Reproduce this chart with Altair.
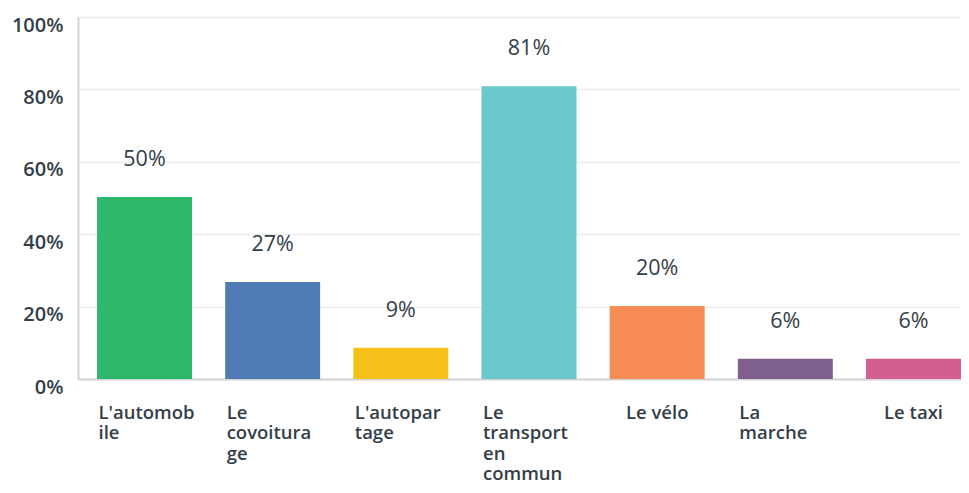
import json
import altair as alt
import pandas as pd

categories = ["L'automobile", "Le covoiturage", "L'autopartage",
              "Le transport en commun", "Le vélo", "La marche", "Le taxi"]
label_lines = [["L'automob", "ile"], ["Le", "covoitura", "ge"], ["L'autopar", "tage"],
               ["Le", "transport", "en", "commun"], ["Le vélo"], ["La", "marche"], ["Le taxi"]]
values = [50.3, 26.8, 8.6, 80.9, 20.2, 5.6, 5.6]
value_labels = ["50%", "27%", "9%", "81%", "20%", "6%", "6%"]
colors = ["#2db86c", "#507cb6", "#f7c11b", "#6bc8cd", "#f78d54", "#7f5f90", "#d25f90"]
y_ticks = [0, 10, 20, 30, 40, 50, 60, 70, 80, 90, 100]

df = pd.DataFrame({"category": categories, "value": values, "label": value_labels})

FONT = "Open Sans"
TXT = "#333e48"

label_map = {c: l for c, l in zip(categories, label_lines)}
multi = [c for c, l in zip(categories, label_lines) if len(l) > 1]
label_expr = json.dumps(label_map, ensure_ascii=False) + "[datum.value]"
multi_test = "indexof(" + json.dumps(multi, ensure_ascii=False) + ", datum.value) >= 0"

x_scale = alt.Scale(paddingInner=0.259, paddingOuter=0.0741, align=1.0)

x_enc = alt.X(
    "category:N",
    sort=categories,
    title=None,
    scale=x_scale,
    axis=alt.Axis(
        labelAngle=0,
        ticks=False,
        domainColor="#d3d3d3",
        domainWidth=2,
        labelExpr=label_expr,
        labelFont=FONT,
        labelFontSize=18.5,
        labelFontWeight=600,
        labelColor=TXT,
        labelLineHeight=20.5,
        labelBaseline="top",
        labelPadding=24,
        labelAlign={"condition": {"test": multi_test, "value": "left"}, "value": "center"},
        labelOffset={"condition": {"test": multi_test, "value": -46}, "value": 0},
        labelLimit=0,
        labelOverlap=False,
    ),
)

y_enc = alt.Y(
    "value:Q",
    title=None,
    scale=alt.Scale(domain=[0, 100], nice=False),
    axis=alt.Axis(
        values=y_ticks,
        labelExpr="datum.value % 20 == 0 ? datum.value + '%' : ''",
        ticks=False,
        domainColor="#d3d3d3",
        domainWidth=2,
        gridColor="#ececec",
        gridWidth=1.5,
        labelFont=FONT,
        labelFontSize=20,
        labelFontWeight=600,
        labelColor=TXT,
        labelPadding=15,
        labelBaseline="middle",
        labelOffset=8,
    ),
)

bars = alt.Chart(df).mark_bar().encode(
    x=x_enc,
    y=y_enc,
    color=alt.Color("category:N", sort=categories,
                    scale=alt.Scale(domain=categories, range=colors), legend=None),
)

texts = alt.Chart(df).mark_text(
    dy=-31, baseline="alphabetic", font=FONT, fontSize=21.5, fontWeight=500, color=TXT
).encode(
    x=alt.X("category:N", sort=categories, scale=x_scale),
    y=alt.Y("value:Q"),
    text="label:N",
)

chart = (bars + texts).properties(
    width=883,
    height=362,
    autosize=alt.AutoSizeParams(type="none"),
    padding={"left": 70, "top": 9, "right": 0, "bottom": 104},
).configure_view(stroke=None)

chart.save("out.html", embed_options={"renderer": "svg", "actions": False})
